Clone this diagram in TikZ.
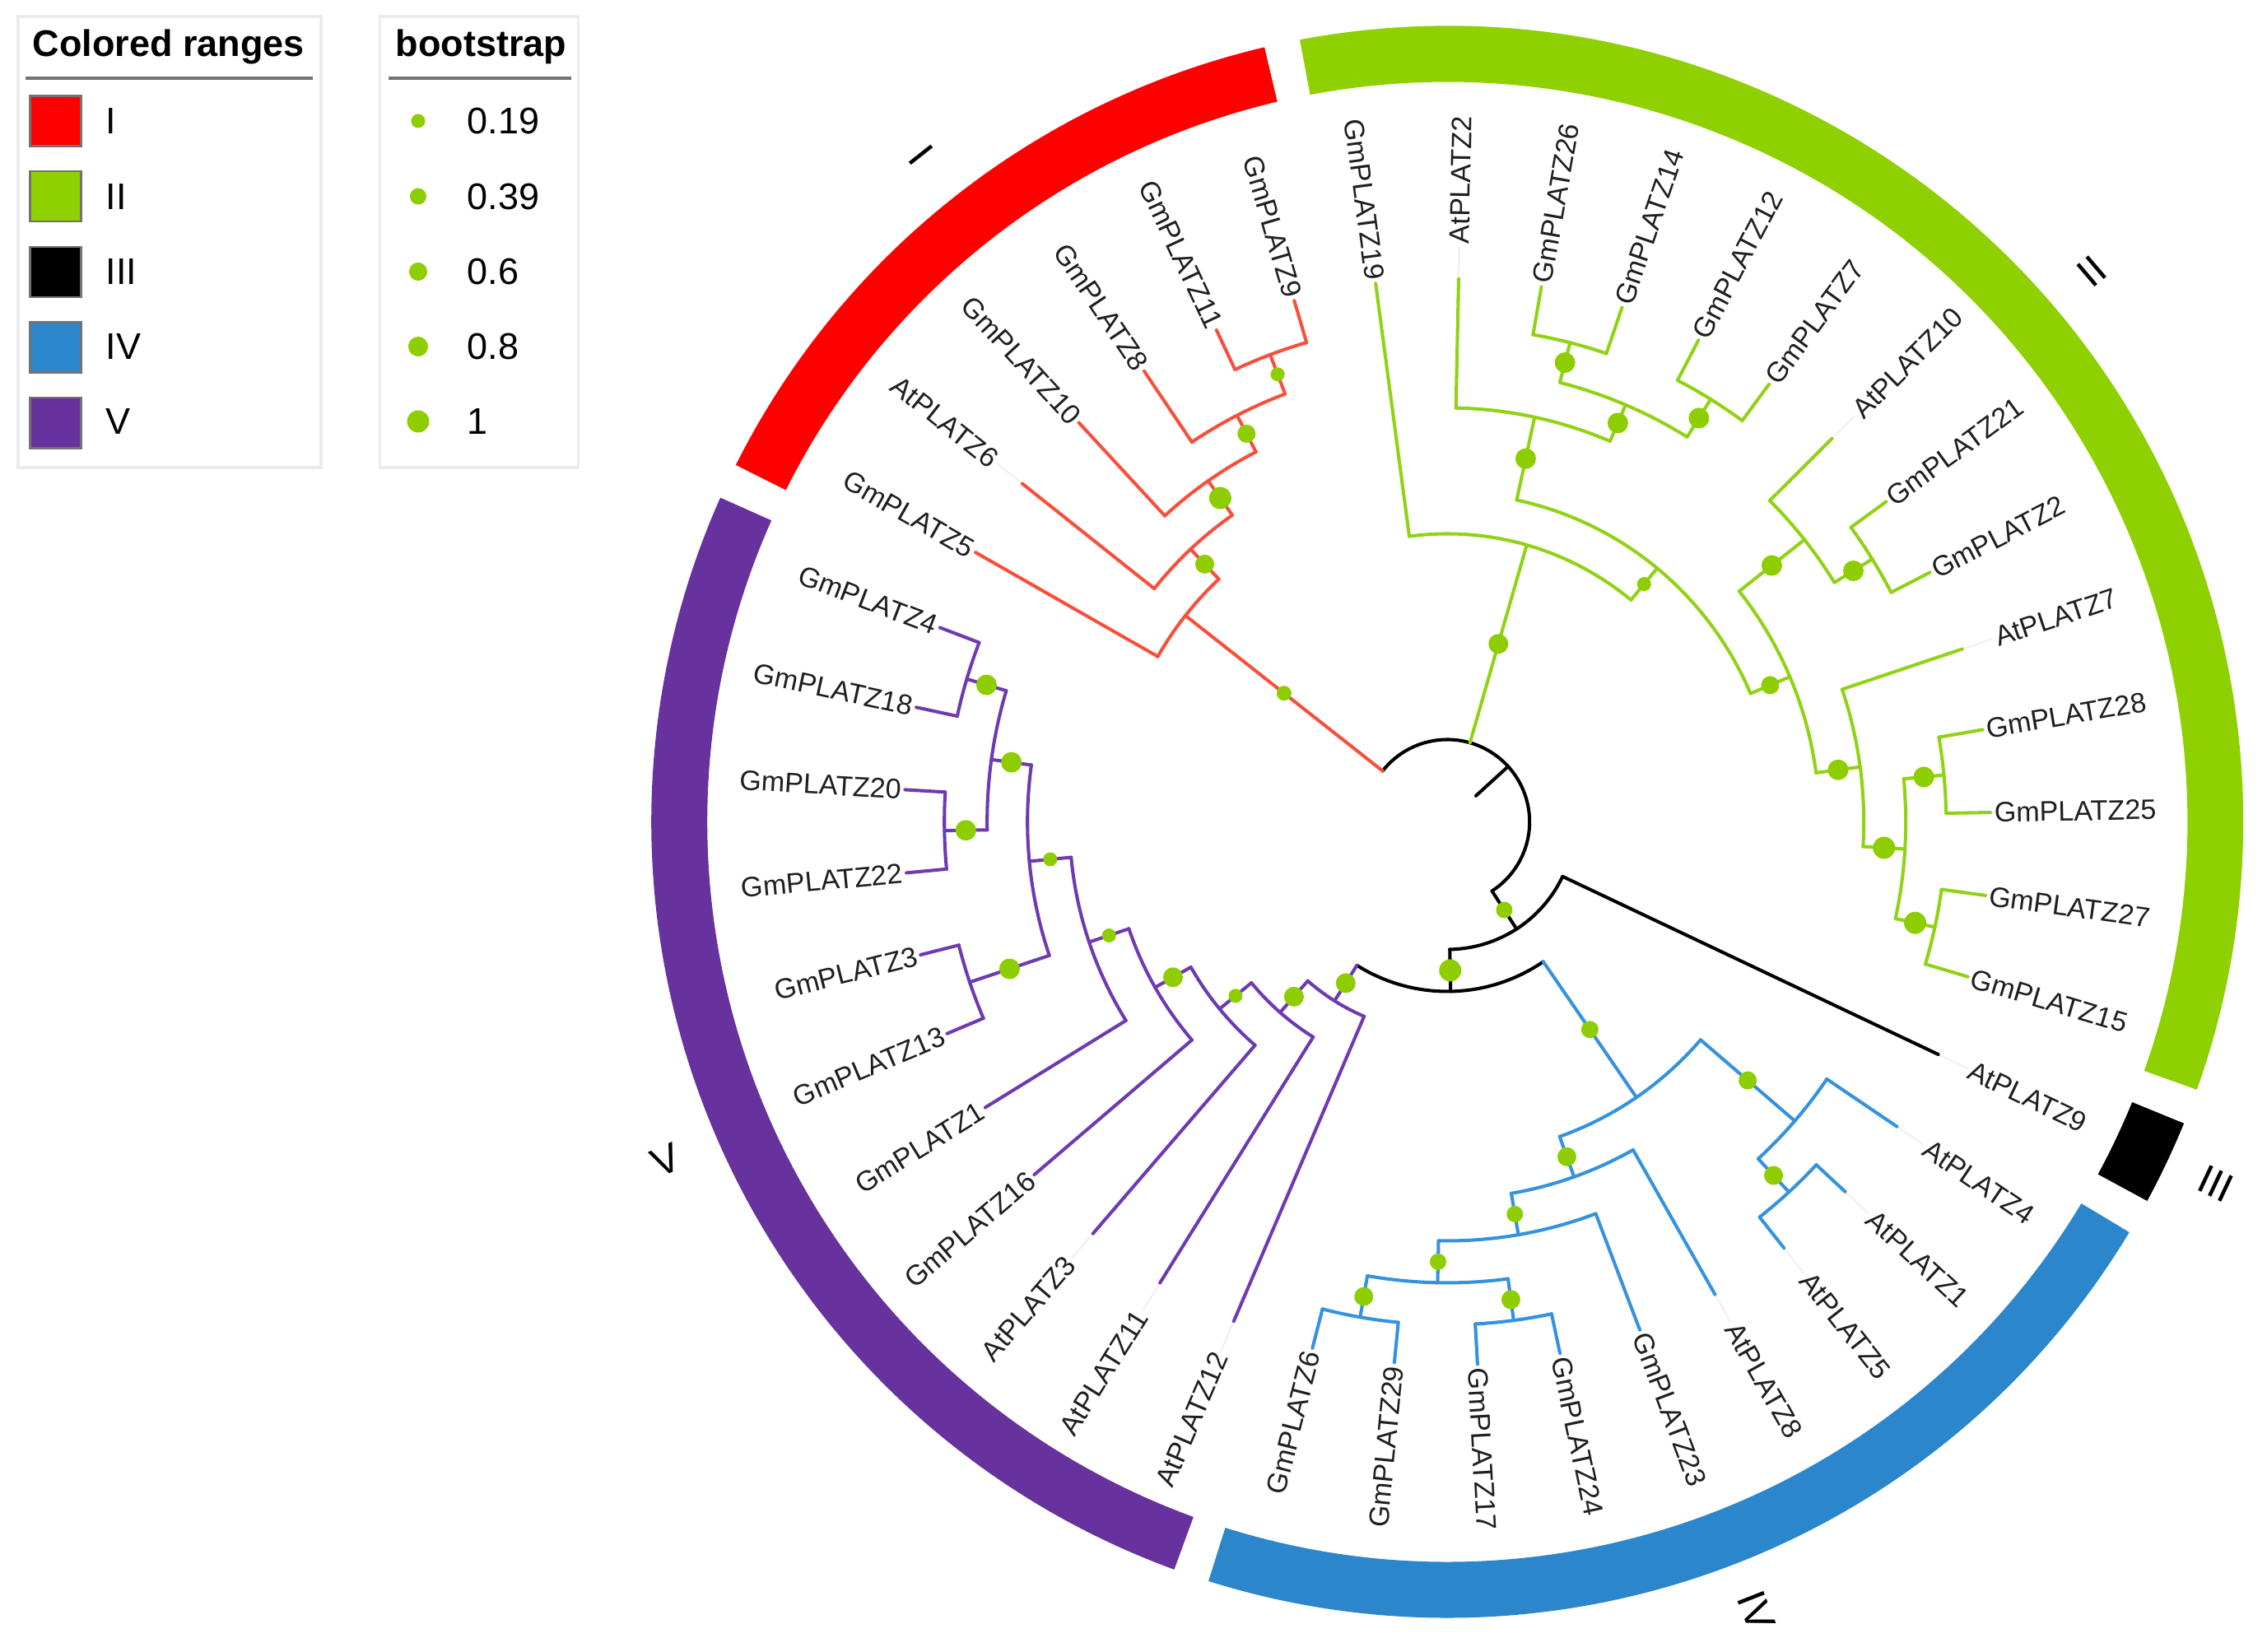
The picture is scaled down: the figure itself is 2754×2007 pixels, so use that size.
\documentclass[tikz,border=0pt]{standalone}
\usepackage{fontspec}
\setmainfont{Liberation Sans}
\definecolor{rring}{RGB}{255,0,0}
\definecolor{gring}{RGB}{142,208,0}
\definecolor{bring}{RGB}{43,134,204}
\definecolor{pring}{RGB}{104,50,158}
\definecolor{rbr}{RGB}{250,78,60}
\definecolor{gbr}{RGB}{145,210,20}
\definecolor{bbr}{RGB}{52,146,222}
\definecolor{pbr}{RGB}{110,58,178}
\definecolor{bsg}{RGB}{142,206,0}
\tikzset{
  brbase/.style={line width=1.15pt, line cap=round, line join=round},
  rb/.style={brbase, draw=rbr},
  gb/.style={brbase, draw=gbr},
  bb/.style={brbase, draw=bbr},
  pb/.style={brbase, draw=pbr},
  kb/.style={brbase, draw=black},
  atl/.style={draw=black!5, line width=0.7pt},
  lab/.style={font=\fontsize{9.7}{11}\selectfont, text=black!88, inner sep=0pt},
  rgl/.style={font=\fontsize{14}{16}\selectfont, text=black, inner sep=0pt},
  lgt/.style={font=\fontsize{12.8}{14}\selectfont, text=black, inner sep=0pt, anchor=west},
  lgh/.style={font=\bfseries\fontsize{12.8}{14}\selectfont, text=black, inner sep=0pt, anchor=base west},
  lbox/.style={draw=black!8, line width=1pt, fill=white},
  sw/.style={draw=black!55, line width=0.7pt},
}
% internal node: style, R, angle, parent R, arc from, arc to, dot radius
\newcommand\nd[7]{%
  \draw[#1] (#3:#4) -- (#3:#2);
  \draw[#1] (#5:#2) arc[start angle=#5, end angle=#6, radius=#2];
  \pgfmathsetmacro\mr{(#2+#4)/2}
  \fill[bsg] (#3:\mr) circle[radius=#7];
}
% leaf: style, index, start radius, text, At-flag
\newcommand\lf[5]{%
  \pgfmathsetmacro\la{88.8-8.7805*#2}
  \draw[#1] (\la:#3) -- (\la:660);
  \ifnum#5=1 \def\lrad{702}\draw[atl] (\la:662) -- (\la:699);\else\def\lrad{664}\fi
  \pgfmathsetmacro\lc{cos(\la)}
  \ifdim\lc pt>0pt
    \node[lab, anchor=west, rotate=\la] (#4) at (\la:\lrad) {#4};
  \else
    \pgfmathsetmacro\lrot{\la+180}
    \node[lab, anchor=east, rotate=\lrot] (#4) at (\la:\lrad) {#4};
  \fi
}
\newcommand\ring[3]{%
  \fill[#1] (#2:899) arc[start angle=#2, end angle=#3, radius=899]
    -- (#3:967) arc[start angle=#3, end angle=#2, radius=967] -- cycle;
}
\begin{document}
\begin{tikzpicture}[x=0.01cm, y=0.01cm]
\useasboundingbox (-1758.2,-1008.5) rectangle (995.8,998.5);
\fill[white] (-1758.2,-1008.5) rectangle (995.8,998.5);

% coloured ranges
\ring{rring}{103.28}{153.36}
\ring{gring}{-19.66}{100.68}
\ring{black}{-28.44}{-22.26}
\ring{bring}{-107.46}{-31.04}
\ring{pring}{-204.04}{-110.06}

\node[rgl, rotate=-51.7] (rI) at (128.3:1032) {I};
\node[rgl, rotate=40.5] (rII) at (40.5:1030) {II};
\node[rgl, rotate=-25.2] (rIII) at (-25.2:1032) {III};
\node[rgl, rotate=-68.6] (rIV) at (-68.6:1030) {IV};
\node[rgl, rotate=23.4] (rV) at (-156.6:1035) {V};

% root
\draw[kb] (42.33:47) -- (42.33:100);
\draw[kb] (141.765:100) arc[start angle=141.765, end angle=-57.11, radius=100];
\nd{rb}{405}{141.765}{100}{133.26}{150.27}{9}
\nd{gb}{350}{73.99}{100}{50.39}{97.59}{12}
\nd{kb}{155}{-57.11}{100}{-88.87}{-25.35}{10}
\nd{kb}{206}{-88.87}{155}{-122.205}{-55.53}{13.5}

% clade I
\nd{rb}{455}{133.26}{405}{125.03}{141.49}{11.5}
\nd{rb}{506}{125.03}{455}{117.345}{132.71}{13.5}
\nd{rb}{556}{117.345}{506}{110.76}{123.93}{11}
\nd{rb}{607}{110.76}{556}{106.37}{115.15}{8.5}

% clade II
\nd{gb}{400}{50.39}{350}{22.95}{77.825}{8.5}
\nd{gb}{503}{77.825}{400}{66.85}{88.8}{12.5}
\nd{gb}{551}{66.85}{503}{58.07}{75.63}{12.5}
\nd{gb}{601}{75.63}{551}{71.24}{80.02}{12.5}
\nd{gb}{605}{58.07}{551}{53.68}{62.46}{12.5}
\nd{gb}{452}{22.95}{400}{7.582}{38.315}{11}
\nd{gb}{553}{38.315}{452}{31.73}{44.90}{12.5}
\nd{gb}{607}{31.73}{553}{27.34}{36.12}{12.5}
\nd{gb}{506}{7.582}{452}{-3.396}{18.56}{12.5}
\nd{gb}{557}{-3.396}{506}{-12.18}{5.3875}{13.5}
\nd{gb}{606}{5.3875}{557}{0.995}{9.78}{12.5}
\nd{gb}{606}{-12.18}{557}{-16.57}{-7.79}{13.5}

% clade IV
\nd{bb}{406}{-55.53}{206}{-70.35}{-40.715}{10.5}
\nd{bb}{557}{-40.715}{406}{-47.30}{-34.13}{11}
\nd{bb}{612}{-47.30}{557}{-51.69}{-42.91}{11.5}
\nd{bb}{458}{-70.35}{406}{-80.225}{-60.47}{11.5}
\nd{bb}{509}{-80.225}{458}{-91.20}{-69.25}{10}
\nd{bb}{560}{-91.20}{509}{-99.98}{-82.42}{10}
\nd{bb}{611}{-99.98}{560}{-104.37}{-95.59}{11.5}
\nd{bb}{611}{-82.42}{560}{-86.81}{-78.03}{11.5}

% clade V
\nd{pb}{257}{237.795}{206}{228.74}{246.85}{12}
\nd{pb}{308}{228.74}{257}{219.41}{238.07}{12}
\nd{pb}{358}{219.41}{308}{209.535}{229.29}{8.5}
\nd{pb}{408}{209.535}{358}{198.56}{220.51}{12}
\nd{pb}{459}{198.56}{408}{185.39}{211.73}{8.5}
\nd{pb}{510}{185.39}{459}{172.22}{198.56}{8.5}
\nd{pb}{612}{198.56}{510}{194.17}{202.95}{12.5}
\nd{pb}{559}{172.22}{510}{163.44}{181.0}{12.5}
\nd{pb}{609}{163.44}{559}{159.05}{167.83}{12.5}
\nd{pb}{611}{181.0}{559}{176.61}{185.39}{12.5}

% leaves
\lf{rb}{34}{405}{GmPLATZ5}{0}
\lf{rb}{35}{455}{AtPLATZ6}{1}
\lf{rb}{36}{506}{GmPLATZ10}{0}
\lf{rb}{37}{556}{GmPLATZ8}{0}
\lf{rb}{38}{607}{GmPLATZ11}{0}
\lf{rb}{39}{607}{GmPLATZ9}{0}
\lf{gb}{40}{350}{GmPLATZ19}{0}
\lf{gb}{0}{503}{AtPLATZ2}{1}
\lf{gb}{1}{601}{GmPLATZ26}{0}
\lf{gb}{2}{601}{GmPLATZ14}{0}
\lf{gb}{3}{605}{GmPLATZ12}{0}
\lf{gb}{4}{605}{GmPLATZ7}{0}
\lf{gb}{5}{553}{AtPLATZ10}{1}
\lf{gb}{6}{607}{GmPLATZ21}{0}
\lf{gb}{7}{607}{GmPLATZ2}{0}
\lf{gb}{8}{506}{AtPLATZ7}{1}
\lf{gb}{9}{606}{GmPLATZ28}{0}
\lf{gb}{10}{606}{GmPLATZ25}{0}
\lf{gb}{11}{606}{GmPLATZ27}{0}
\lf{gb}{12}{606}{GmPLATZ15}{0}
\lf{kb}{13}{155}{AtPLATZ9}{1}
\lf{bb}{14}{557}{AtPLATZ4}{1}
\lf{bb}{15}{612}{AtPLATZ1}{1}
\lf{bb}{16}{612}{AtPLATZ5}{1}
\lf{bb}{17}{458}{AtPLATZ8}{1}
\lf{bb}{18}{509}{GmPLATZ23}{0}
\lf{bb}{19}{611}{GmPLATZ24}{0}
\lf{bb}{20}{611}{GmPLATZ17}{0}
\lf{bb}{21}{611}{GmPLATZ29}{0}
\lf{bb}{22}{611}{GmPLATZ6}{0}
\lf{pb}{23}{257}{AtPLATZ12}{1}
\lf{pb}{24}{308}{AtPLATZ11}{1}
\lf{pb}{25}{358}{AtPLATZ3}{1}
\lf{pb}{26}{408}{GmPLATZ16}{0}
\lf{pb}{27}{459}{GmPLATZ1}{0}
\lf{pb}{28}{612}{GmPLATZ13}{0}
\lf{pb}{29}{612}{GmPLATZ3}{0}
\lf{pb}{30}{611}{GmPLATZ22}{0}
\lf{pb}{31}{611}{GmPLATZ20}{0}
\lf{pb}{32}{609}{GmPLATZ18}{0}
\lf{pb}{33}{609}{GmPLATZ4}{0}

% legends (image coordinates)
\begin{scope}[shift={(-1758.2,998.5)}, yscale=-1]
  \draw[lbox] (22,20) rectangle (390,568);
  \node[lgh] (t1) at (39,68.4) {Colored ranges};
  \draw[black!55, line width=1.2pt] (31,95.4) -- (380,95.4);
  \filldraw[sw, fill=rring] (36.7,116.5) rectangle (98.7,177.5);
  \filldraw[sw, fill=gring] (36.7,208) rectangle (98.7,269);
  \filldraw[sw, fill=black] (36.7,300) rectangle (98.7,361);
  \filldraw[sw, fill=bring] (36.7,391.5) rectangle (98.7,452.5);
  \filldraw[sw, fill=pring] (36.7,483) rectangle (98.7,544.5);
  \node[lgt] (c1) at (128,147) {I};
  \node[lgt] (c2) at (128,238.6) {II};
  \node[lgt] (c3) at (128,330) {III};
  \node[lgt] (c4) at (128,421) {IV};
  \node[lgt] (c5) at (128,512) {V};

  \draw[lbox] (461.5,20) rectangle (702.6,568);
  \node[lgh] (t2) at (480,68.4) {bootstrap};
  \draw[black!55, line width=1.2pt] (472,95.4) -- (694,95.4);
  \fill[bsg] (508,147) circle[radius=8.5];
  \fill[bsg] (508,238.6) circle[radius=10];
  \fill[bsg] (508,330) circle[radius=11];
  \fill[bsg] (508,421) circle[radius=12];
  \fill[bsg] (508,512) circle[radius=13.5];
  \node[lgt] (b1) at (567,147) {0.19};
  \node[lgt] (b2) at (567,238.6) {0.39};
  \node[lgt] (b3) at (567,330) {0.6};
  \node[lgt] (b4) at (567,421) {0.8};
  \node[lgt] (b5) at (567,512) {1};
\end{scope}
\end{tikzpicture}
\end{document}
